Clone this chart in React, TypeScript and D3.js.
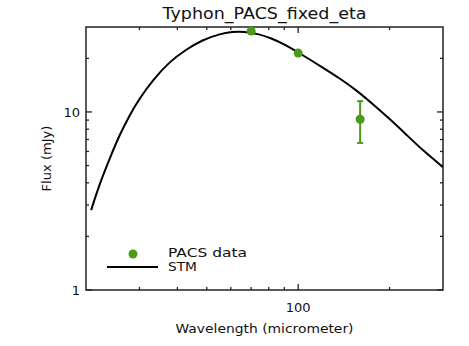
import React from "react";
import * as d3 from "d3";

const titleText = "Typhon_PACS_fixed_eta";
const xLabel = "Wavelength (micrometer)";
const yLabel = "Flux (mJy)";

const dataWavelength = [70, 100, 160];
const dataFlux = [28.5, 21.4, 9.1];
const dataErr = [0, 0, 2.4];

const stmWavelength = [20.8, 22.1, 24.2, 25.8, 27.8, 30.0, 33.2, 37.6, 42.7, 48.4, 55.0, 60.8, 66.2, 73.6, 81.8, 89.1, 100, 121, 137.4, 156, 177, 201, 228, 259, 300];
const stmFlux = [2.81, 3.89, 5.73, 7.43, 9.55, 11.9, 15.1, 19.1, 22.4, 25.4, 27.4, 28.2, 28.3, 27.5, 25.9, 24.2, 21.6, 17.7, 15.4, 13.2, 11.0, 9.08, 7.41, 6.03, 4.9];

const xMajorTicks = [100];
const xMinorTicks = [30, 40, 50, 60, 70, 80, 90, 200];
const yMajorTicks = [1, 10];
const yMinorTicks = [2, 3, 4, 5, 6, 7, 8, 9, 20];

const legendLabels = ["PACS data", "STM"];

const W = 469, H = 346;
const L = 86, R = 443, T = 27, B = 290;
const green = "#4b9a1c";
const font = "DejaVu Sans, Verdana, sans-serif";

export default function App() {
  const x = d3.scaleLog().domain([20, 300]).range([L, R]);
  const y = d3.scaleLog().domain([1, 30]).range([B, T]);
  const line = d3
    .line<number>()
    .x((_, i) => x(stmWavelength[i]))
    .y((d) => y(d))
    .curve(d3.curveBasis);
  const path = line(stmFlux) || "";

  return (
    <svg width={W} height={H} style={{ position: "absolute", left: 0, top: 0, background: "#fff" }}>
      <defs>
        <clipPath id="plotclip">
          <rect x={L} y={T} width={R - L} height={B - T} />
        </clipPath>
      </defs>
      <rect x={0} y={0} width={W} height={H} fill="#fff" />
      <text x={(L + R) / 2} y={19} textAnchor="middle" fontFamily={font} fontSize={15} fill="#111" textLength={204} lengthAdjust="spacingAndGlyphs">
        {titleText}
      </text>
      <rect x={L} y={T} width={R - L} height={B - T} fill="none" stroke="#222" strokeWidth={1.5} />
      {xMajorTicks.map((v) => (
        <g key={"xM" + v}>
          <line x1={x(v)} x2={x(v)} y1={B} y2={B - 6} stroke="#222" strokeWidth={1.3} />
          <line x1={x(v)} x2={x(v)} y1={T} y2={T + 6} stroke="#222" strokeWidth={1.3} />
          <text x={x(v)} y={312} textAnchor="middle" fontFamily={font} fontSize={13} fill="#111">{v}</text>
        </g>
      ))}
      {xMinorTicks.map((v) => (
        <g key={"xm" + v}>
          <line x1={x(v)} x2={x(v)} y1={B} y2={B - 3} stroke="#222" strokeWidth={1.3} />
          <line x1={x(v)} x2={x(v)} y1={T} y2={T + 3} stroke="#222" strokeWidth={1.3} />
        </g>
      ))}
      {yMajorTicks.map((v) => (
        <g key={"yM" + v}>
          <line x1={L} x2={L + 6} y1={y(v)} y2={y(v)} stroke="#222" strokeWidth={1.3} />
          <line x1={R} x2={R - 6} y1={y(v)} y2={y(v)} stroke="#222" strokeWidth={1.3} />
          <text x={L - 6} y={y(v) + 5} textAnchor="end" fontFamily={font} fontSize={13} fill="#111">{v}</text>
        </g>
      ))}
      {yMinorTicks.map((v) => (
        <g key={"ym" + v}>
          <line x1={L} x2={L + 3} y1={y(v)} y2={y(v)} stroke="#222" strokeWidth={1.3} />
          <line x1={R} x2={R - 3} y1={y(v)} y2={y(v)} stroke="#222" strokeWidth={1.3} />
        </g>
      ))}
      <text x={(L + R) / 2} y={333} textAnchor="middle" fontFamily={font} fontSize={12.5} fill="#111" textLength={178} lengthAdjust="spacingAndGlyphs">
        {xLabel}
      </text>
      <text transform={`translate(51,${(T + B) / 2}) rotate(-90)`} textAnchor="middle" fontFamily={font} fontSize={12.5} fill="#111" textLength={66} lengthAdjust="spacingAndGlyphs">
        {yLabel}
      </text>
      <g clipPath="url(#plotclip)">
        <path d={path} fill="none" stroke="#000" strokeWidth={2} />
      </g>
      {dataWavelength.map((w, i) => (
        <g key={"d" + i}>
          {dataErr[i] > 0 && (
            <g stroke={green} strokeWidth={2}>
              <line x1={x(w)} x2={x(w)} y1={y(dataFlux[i] + dataErr[i])} y2={y(dataFlux[i] - dataErr[i])} />
              <line x1={x(w) - 3} x2={x(w) + 3} y1={y(dataFlux[i] + dataErr[i])} y2={y(dataFlux[i] + dataErr[i])} />
              <line x1={x(w) - 3} x2={x(w) + 3} y1={y(dataFlux[i] - dataErr[i])} y2={y(dataFlux[i] - dataErr[i])} />
            </g>
          )}
          <circle cx={x(w)} cy={y(dataFlux[i])} r={4.5} fill={green} />
        </g>
      ))}
      <circle cx={133} cy={254} r={4.5} fill={green} />
      <text x={168} y={257} fontFamily={font} fontSize={12} fill="#111" textLength={79} lengthAdjust="spacingAndGlyphs">{legendLabels[0]}</text>
      <line x1={107} x2={158} y1={267} y2={267} stroke="#000" strokeWidth={2} />
      <text x={168} y={271} fontFamily={font} fontSize={12} fill="#111" textLength={29} lengthAdjust="spacingAndGlyphs">{legendLabels[1]}</text>
    </svg>
  );
}
